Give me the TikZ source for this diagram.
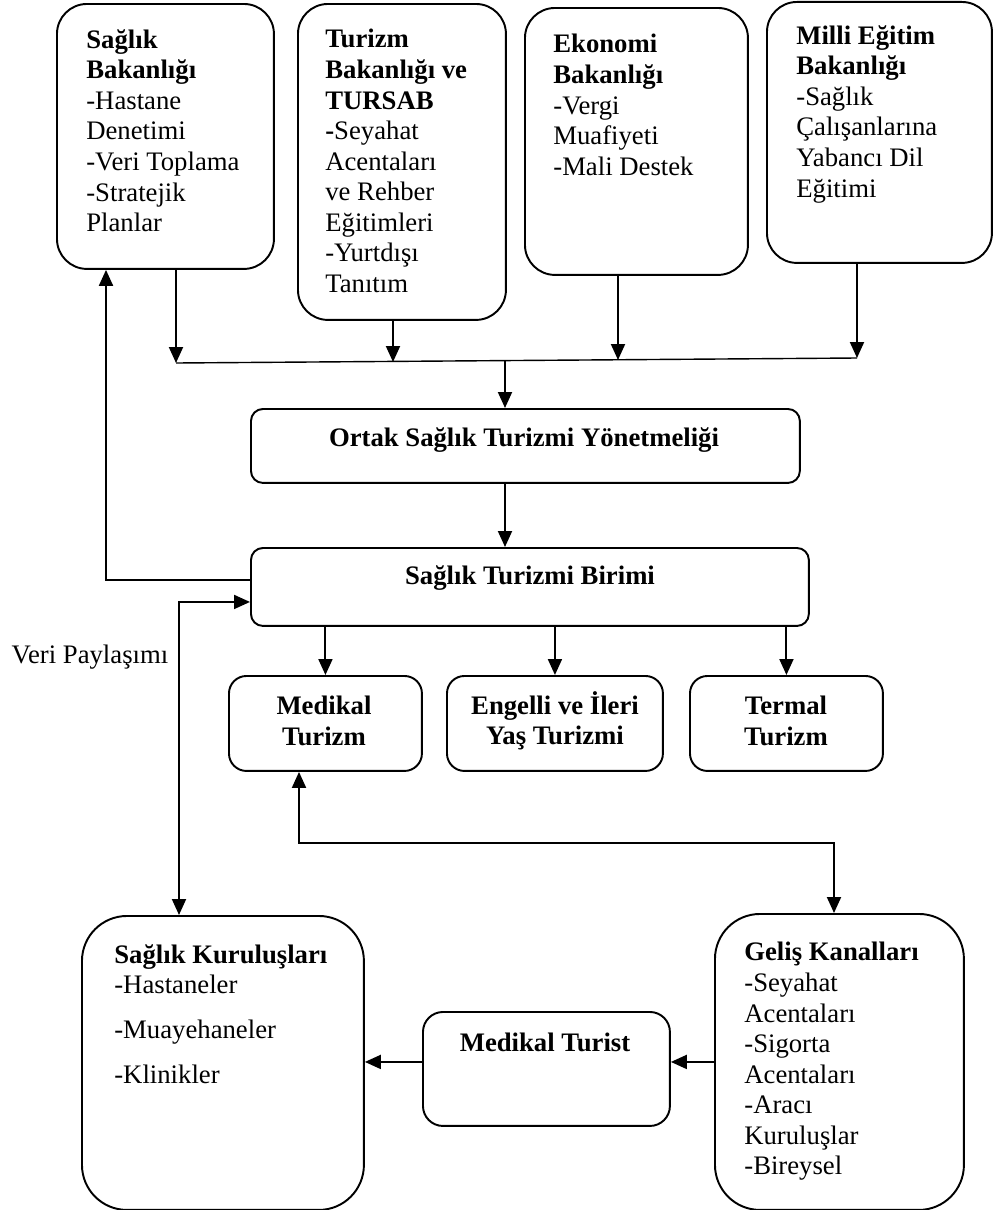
\documentclass[tikz,border=0pt]{standalone}
\usepackage{fontspec}
\setmainfont{Liberation Serif}
\usetikzlibrary{arrows.meta}

\begin{document}
\begin{tikzpicture}[x=0.02cm, y=-0.02cm,
	kutu/.style={draw, line width=1.1pt, anchor=north west, inner sep=0pt},
	yazi/.style={font=\fontsize{15.2}{17.4}\selectfont, align=left, inner sep=0pt, anchor=north west},
	orta/.style={font=\fontsize{15.2}{17.4}\selectfont\bfseries, align=center, inner sep=0pt},
	ok/.style={line width=1.1pt, -{Triangle[length=0.32cm,width=0.28cm]}},
	ciftok/.style={line width=1.1pt, {Triangle[length=0.32cm,width=0.28cm]}-{Triangle[length=0.32cm,width=0.28cm]}}]
	\useasboundingbox (0,0) rectangle (992,1210);
	
	% bakanliklar
	\node[kutu, rounded corners=0.6cm, minimum width=4.34cm, minimum height=5.3cm] (saglik) at (56,3) {};
	\node[kutu, rounded corners=0.6cm, minimum width=4.16cm, minimum height=6.32cm] (turizm) at (297,3) {};
	\node[kutu, rounded corners=0.6cm, minimum width=4.46cm, minimum height=5.34cm] (ekonomi) at (524,7) {};
	\node[kutu, rounded corners=0.6cm, minimum width=4.5cm, minimum height=5.22cm] (milli) at (766,1) {};
	\node[yazi] (saglikT) at (86,29) {\textbf{Sağlık}\\\textbf{Bakanlığı}\\-Hastane\\Denetimi\\-Veri Toplama\\-Stratejik\\Planlar};
	\node[yazi] (turizmT) at (325,29) {\textbf{Turizm}\\\textbf{Bakanlığı ve}\\\textbf{TURSAB}\\\textbf{-}Seyahat\\Acentaları\\ve Rehber\\Eğitimleri\\-Yurtdışı\\Tanıtım};
	\node[yazi] (ekonomiT) at (553,34) {\textbf{Ekonomi}\\\textbf{Bakanlığı}\\-Vergi\\Muafiyeti\\-Mali Destek};
	\node[yazi] (milliT) at (796,25) {\textbf{Milli Eğitim}\\\textbf{Bakanlığı}\\-Sağlık\\Çalışanlarına\\Yabancı Dil\\Eğitimi};
	
	% ortak hat
	\coordinate (b1) at (176,363);
	\coordinate (b2) at (393,362);
	\coordinate (b3) at (618,360);
	\coordinate (b4) at (857,358);
	\coordinate (bm) at (505,361);
	\draw[line width=0.8pt] (b1) -- (b4);
	\draw[ok] (saglik.south -| b1) -- (b1);
	\draw[ok] (turizm.south -| b2) -- (b2);
	\draw[ok] (ekonomi.south -| b3) -- (b3);
	\draw[ok] (milli.south -| b4) -- (b4);
	
	% orta kutular
	\node[kutu, rounded corners=0.24cm, minimum width=10.98cm, minimum height=1.48cm] (ortak) at (250,408) {};
	\node[kutu, rounded corners=0.24cm, minimum width=11.16cm, minimum height=1.56cm] (birim) at (250,547) {};
	\node[orta] (ortakT) at (524,440) {Ortak Sağlık Turizmi Yönetmeliği};
	\node[orta] (birimT) at (530,578) {Sağlık Turizmi Birimi};
	\draw[ok] (bm) -- (bm |- ortak.north);
	\draw[ok] (ortak.south -| bm) -- (birim.north -| bm);
	
	\node[kutu, rounded corners=0.35cm, minimum width=3.86cm, minimum height=1.9cm] (medikal) at (228,675) {};
	\node[kutu, rounded corners=0.35cm, minimum width=4.32cm, minimum height=1.9cm] (engelli) at (446,675) {};
	\node[kutu, rounded corners=0.35cm, minimum width=3.86cm, minimum height=1.9cm] (termal) at (689,675) {};
	\node[orta] (medikalT) at (324,721) {Medikal\\Turizm};
	\node[orta] (engelliT) at (555,721) {Engelli ve İleri\\Yaş Turizmi};
	\node[orta] (termalT) at (786,721) {Termal\\Turizm};
	\draw[ok] (birim.south -| medikal.north) -- (medikal.north);
	\draw[ok] (birim.south -| engelli.north) -- (engelli.north);
	\draw[ok] (birim.south -| termal.north) -- (termal.north);
	
	% alt kutular
	\node[kutu, rounded corners=0.9cm, minimum width=5.64cm, minimum height=5.88cm] (kurulus) at (81,915) {};
	\node[kutu, rounded corners=0.4cm, minimum width=4.94cm, minimum height=2.28cm] (turist) at (422,1011) {};
	\node[kutu, rounded corners=0.9cm, minimum width=4.98cm, minimum height=5.92cm] (gelis) at (714,913) {};
	\node[yazi] (kurulusT) at (114,944) {\textbf{Sağlık Kuruluşları}\\-Hastaneler\\[0.29cm]-Muayehaneler\\[0.29cm]-Klinikler};
	\node[orta] (turistT) at (545,1042) {Medikal Turist};
	\node[yazi] (gelisT) at (744,942) {\textbf{Geliş Kanalları}\\-Seyahat\\Acentaları\\-Sigorta\\Acentaları\\-Aracı\\Kuruluşlar\\-Bireysel};
	\draw[ok] (gelis.west) -- (turist.east |- gelis.west);
	\draw[ok] (turist.west |- gelis.west) -- (kurulus.east |- gelis.west);
	
	% geri bildirim ve veri
	\coordinate (xa) at (106,0);
	\coordinate (xb) at (179,0);
	\coordinate (xc) at (299,0);
	\coordinate (xd) at (834,0);
	\coordinate (ym) at (0,843);
	\draw[ok] ([yshift=0.14cm]birim.west) -| (saglik.south -| xa);
	\draw[ciftok] (kurulus.north -| xb) |- ([yshift=-0.3cm]birim.west);
	\node[font=\fontsize{15.2}{17.4}\selectfont, inner sep=0pt] (veri) at (90,657) {Veri Paylaşımı};
	\draw[ciftok] (medikal.south -| xc) |- (ym -| xd) -- (gelis.north -| xd);
\end{tikzpicture}
\end{document}
